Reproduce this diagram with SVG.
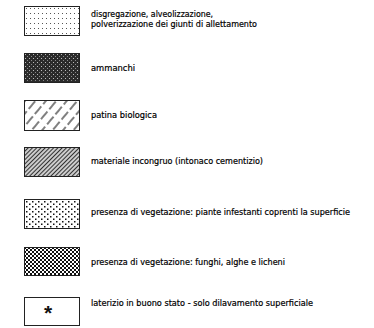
<svg xmlns="http://www.w3.org/2000/svg" width="374" height="328" viewBox="0 0 374 328">
<defs>
<pattern id="pDots" width="4" height="5" patternUnits="userSpaceOnUse" x="25" y="7">
<rect x="1" y="1" width="1" height="1" fill="#555"/>
</pattern>
<pattern id="pAmm" width="4" height="4" patternUnits="userSpaceOnUse" x="24" y="53">
<rect width="4" height="4" fill="#2b2b2b"/>
<rect x="1" y="1" width="1" height="1" fill="#bbb"/>
<rect x="3" y="3" width="1" height="1" fill="#888"/>
</pattern>
<pattern id="pPat" width="13" height="8" patternUnits="userSpaceOnUse" patternTransform="rotate(-50)">
<line x1="0" y1="4" x2="10" y2="4" stroke="#000" stroke-width="1"/>
</pattern>
<pattern id="pInc" width="3" height="3" patternUnits="userSpaceOnUse" patternTransform="rotate(-45)">
<rect width="3" height="3" fill="#fff"/>
<line x1="0" y1="1.5" x2="3" y2="1.5" stroke="#333" stroke-width="1.5"/>
</pattern>
<pattern id="pVeg" width="6" height="5" patternUnits="userSpaceOnUse" x="25" y="200">
<rect x="1" y="1" width="1.5" height="1.5" fill="#111"/>
<rect x="4" y="3.5" width="1.5" height="1.5" fill="#111"/>
</pattern>
<pattern id="pChk" width="4" height="4" patternUnits="userSpaceOnUse" x="24" y="247">
<rect width="4" height="4" fill="#fff"/>
<rect width="2" height="2" fill="#111"/>
<rect x="2" y="2" width="2" height="2" fill="#111"/>
</pattern>
</defs>
<style>
.box{stroke:#222;stroke-width:1}
.t{font-family:"Liberation Sans Narrow","DejaVu Sans Condensed","Liberation Sans",sans-serif;font-stretch:condensed;font-size:9.5px;fill:#000;stroke:#000;stroke-width:0.2}
</style>
<g id="item1">
<rect class="box" x="24.5" y="6.5" width="55" height="29" fill="url(#pDots)"/>
<text class="t" x="91" y="17" textLength="122" lengthAdjust="spacingAndGlyphs">disgregazione, alveolizzazione,</text>
<text class="t" x="91" y="26.5" textLength="166" lengthAdjust="spacingAndGlyphs">polverizzazione dei giunti di allettamento</text>
</g>
<g id="item2">
<rect class="box" x="24.5" y="53.5" width="55" height="29" fill="url(#pAmm)"/>
<text class="t" x="91" y="70.5" textLength="44" lengthAdjust="spacingAndGlyphs">ammanchi</text>
</g>
<g id="item3">
<rect class="box" x="24.5" y="100.5" width="55" height="30" fill="#fff"/>
<rect x="25" y="101" width="54" height="29" fill="url(#pPat)"/>
<text class="t" x="91" y="117.5" textLength="66" lengthAdjust="spacingAndGlyphs">patina biologica</text>
</g>
<g id="item4">
<rect class="box" x="24.5" y="147.5" width="55" height="29" fill="url(#pInc)"/>
<text class="t" x="91" y="164" textLength="172" lengthAdjust="spacingAndGlyphs">materiale incongruo (intonaco cementizio)</text>
</g>
<g id="item5">
<rect class="box" x="24.5" y="199.5" width="55" height="29" fill="url(#pVeg)"/>
<text class="t" x="91" y="215" textLength="259" lengthAdjust="spacingAndGlyphs">presenza di vegetazione: piante infestanti coprenti la superficie</text>
</g>
<g id="item6">
<rect class="box" x="24.5" y="247.5" width="55" height="28" fill="url(#pChk)"/>
<text class="t" x="91" y="265" textLength="194" lengthAdjust="spacingAndGlyphs">presenza di vegetazione: funghi, alghe e licheni</text>
</g>
<g id="item7">
<rect class="box" x="24.5" y="297.5" width="55" height="28" fill="#fff"/>
<text x="48" y="320" text-anchor="middle" font-family="Liberation Sans, sans-serif" font-size="21" font-weight="bold" fill="#111">*</text>
<text class="t" x="91" y="305.5" textLength="222" lengthAdjust="spacingAndGlyphs">laterizio in buono stato - solo dilavamento superficiale</text>
</g>
</svg>
